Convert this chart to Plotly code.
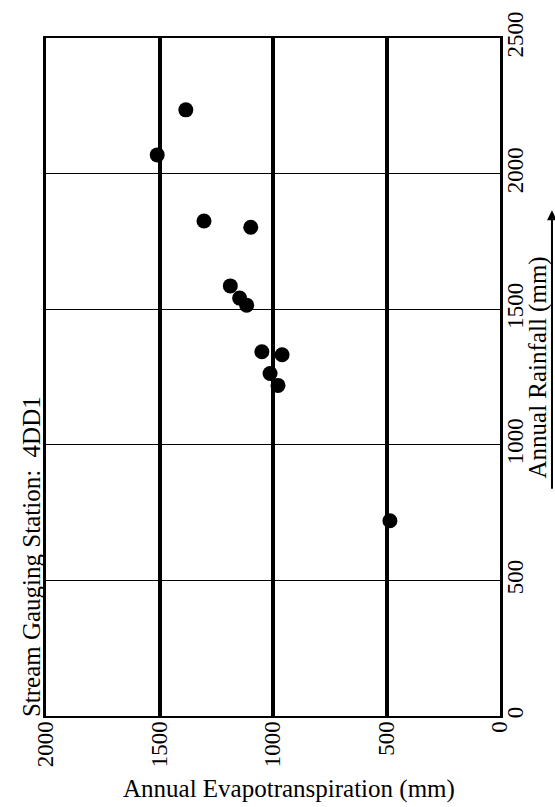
import plotly.graph_objects as go

# Data read from the (rotated) reference chart
evapotranspiration_mm = [1384, 1510, 1304, 1098, 1188, 1147, 1116, 1049, 960, 1013, 978, 485]
rainfall_mm = [2235, 2069, 1825, 1802, 1586, 1541, 1515, 1343, 1332, 1263, 1219, 720]

x_ticks = [0, 500, 1000, 1500, 2000]
y_ticks = [0, 500, 1000, 1500, 2000, 2500]

FONT = "Liberation Serif"

fig = go.Figure()
fig.add_trace(go.Scatter(
    x=evapotranspiration_mm, y=rainfall_mm, mode="markers",
    marker=dict(color="black", size=15, symbol="circle"),
    showlegend=False, cliponaxis=False,
))

fig.update_layout(
    width=555, height=807,
    margin=dict(l=46, r=55, t=34, b=91),
    paper_bgcolor="white", plot_bgcolor="white",
    font=dict(family=FONT, color="black"),
    xaxis=dict(
        range=[2000, 0], tickvals=x_ticks, ticktext=[str(v) for v in x_ticks],
        tickangle=-90, tickfont=dict(family=FONT, size=23, color="black"),
        showgrid=True, gridcolor="black", gridwidth=3.5,
        showline=True, linecolor="black", linewidth=2, mirror=True,
        zeroline=False, ticks="", ticklabelstandoff=-6,
    ),
    yaxis=dict(
        range=[0, 2500], tickvals=y_ticks, ticktext=[str(v) for v in y_ticks],
        side="right", tickangle=-90, tickfont=dict(family=FONT, size=23, color="black"),
        showgrid=True, gridcolor="black", gridwidth=1.3,
        showline=True, linecolor="black", linewidth=3, mirror=True,
        zeroline=False, ticks="", ticklabelstandoff=-8,
    ),
    annotations=[
        dict(text="Annual Evapotranspiration (mm)", xref="paper", yref="paper",
             x=0.535, y=-0.108, xanchor="center", yanchor="middle", showarrow=False,
             font=dict(family=FONT, size=25, color="black")),
        dict(text="Annual Rainfall (mm)", xref="paper", yref="paper",
             x=1.0837, y=0.514, xanchor="center", yanchor="middle", showarrow=False,
             textangle=-90, font=dict(family=FONT, size=25, color="black")),
        dict(text="", xref="paper", yref="paper", x=1.1145, y=0.7458,
             ax=0, ay=280, showarrow=True, arrowhead=2, arrowsize=1, arrowwidth=2,
             arrowcolor="black"),
        dict(text="Stream Gauging Station:  4DD1", xref="paper", yref="paper",
             x=-0.033, y=0.2344, xanchor="center", yanchor="middle", showarrow=False,
             textangle=-90, font=dict(family=FONT, size=25, color="black")),
    ],
)

fig.write_html("out.html")
